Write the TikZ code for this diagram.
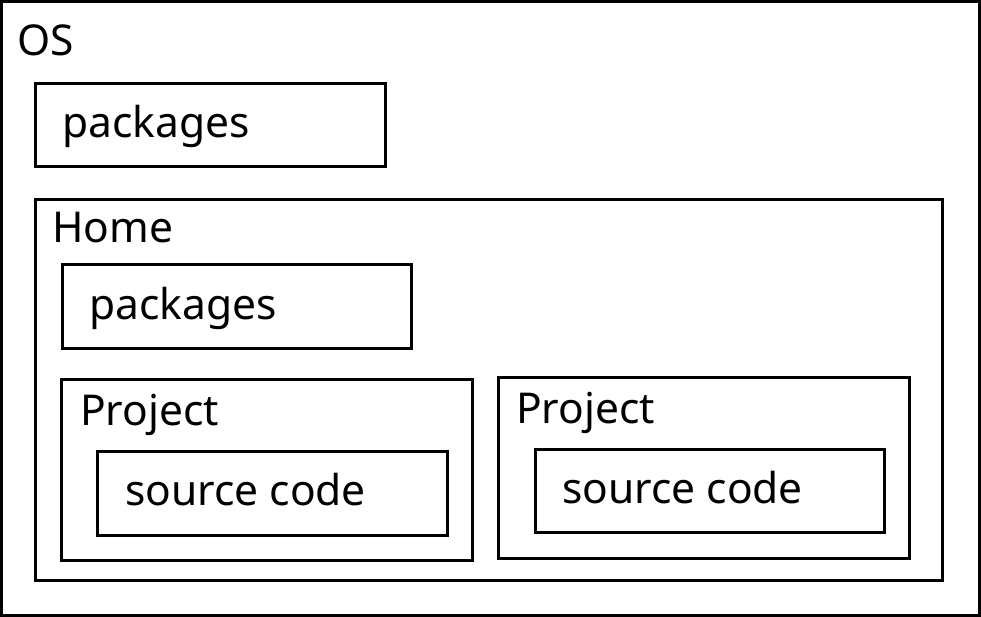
\documentclass[tikz,border=0pt]{standalone}
\usepackage{fontspec}
\setmainfont{Noto Sans}
\begin{document}
\begin{tikzpicture}[x=1pt,y=-1pt,
  box/.style={draw=black, line width=3pt, rectangle, inner sep=0pt, outer sep=0pt, anchor=north west},
  lbl/.style={inner sep=0pt, anchor=base west, font=\fontsize{42.5}{50}\selectfont}]
\useasboundingbox (0,0) rectangle (981,617);
\node[box, minimum width=978pt, minimum height=614pt] (os) at (1.5,1.5) {};
\node[lbl] (ost) at (17,56) {OS};
\node[box, minimum width=350pt, minimum height=83pt] (pk1) at (35,84) {};
\node[lbl] (pk1t) at (62,138) {packages};
\node[box, minimum width=907pt, minimum height=380pt] (home) at (35,200) {};
\node[lbl] (homet) at (52,243) {Home};
\node[box, minimum width=349pt, minimum height=83pt] (pk2) at (62,265) {};
\node[lbl] (pk2t) at (89,319) {packages};
\node[box, minimum width=411pt, minimum height=181pt] (pr1) at (61,379) {};
\node[lbl] (pr1t) at (80,425) {Project};
\node[box, minimum width=350pt, minimum height=84pt] (sc1) at (97,451) {};
\node[lbl] (sc1t) at (125,505) {source code};
\node[box, minimum width=411pt, minimum height=181pt] (pr2) at (498,377) {};
\node[lbl] (pr2t) at (516,423) {Project};
\node[box, minimum width=349pt, minimum height=83pt] (sc2) at (535,449) {};
\node[lbl] (sc2t) at (562,503) {source code};
\end{tikzpicture}
\end{document}
